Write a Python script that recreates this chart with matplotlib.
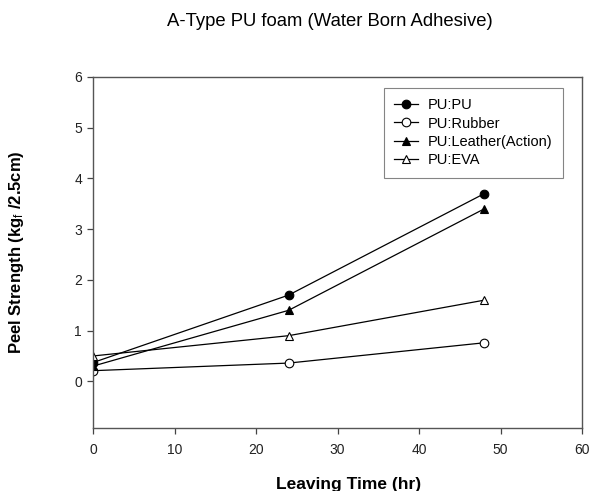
import matplotlib
matplotlib.use("Agg")
import matplotlib.pyplot as plt

plt.rcParams['font.family'] = ['Liberation Sans', 'DejaVu Sans']
plt.rcParams['mathtext.fontset'] = 'custom'
plt.rcParams['mathtext.rm'] = 'Liberation Sans'
plt.rcParams['mathtext.it'] = 'Liberation Sans'
plt.rcParams['mathtext.bf'] = 'Liberation Sans:bold'

time_hr = [0, 24, 48]
pu_pu = [0.37, 1.7, 3.7]
pu_rubber = [0.21, 0.36, 0.76]
pu_leather = [0.3, 1.4, 3.4]
pu_eva = [0.5, 0.9, 1.6]

W, H = 590, 491
fig = plt.figure(figsize=(W / 100, H / 100), dpi=100)
ax = fig.add_axes([93 / W, 1 - 428 / H, 489 / W, 351 / H])

common = dict(color='black', lw=0.9, ms=6.2, mec='black', mew=0.8)
ax.plot(time_hr, pu_pu, marker='o', mfc='black', label='PU:PU', **common)
ax.plot(time_hr, pu_rubber, marker='o', mfc='white', label='PU:Rubber', **common)
ax.plot(time_hr, pu_leather, marker='^', mfc='black', label='PU:Leather(Action)', **common)
ax.plot(time_hr, pu_eva, marker='^', mfc='white', label='PU:EVA', **common)

ax.set_xlim(0, 60)
ax.set_ylim(-0.92, 6)
ax.set_xticks([0, 10, 20, 30, 40, 50, 60])
ax.set_yticks([0, 1, 2, 3, 4, 5, 6])
ax.tick_params(direction='out', length=4, width=0.9, color='#444444',
               labelsize=10, labelcolor='#222222')
ax.tick_params(axis='y', pad=4)
ax.tick_params(axis='x', pad=7)
for s in ax.spines.values():
    s.set_color('#555555')
    s.set_linewidth(1.0)

fig.text(349 / W, 1 - 484 / H, 'Leaving Time (hr)', ha='center', va='center',
         fontsize=12.5, fontweight='bold')
fig.text(17 / W, 1 - 252 / H, r'Peel Strength (kg$_{f}$ /2.5cm)', rotation=90,
         ha='center', va='center', fontsize=12, fontweight='bold')
fig.text(330 / W, 1 - 21 / H, 'A-Type PU foam (Water Born Adhesive)',
         ha='center', va='center', fontsize=13.3)

leg = ax.legend(loc='upper left', bbox_to_anchor=((384 - 93) / 489, (428 - 88) / 351),
                fontsize=10.5, frameon=True, fancybox=False, handlelength=1.6,
                borderpad=0.7, borderaxespad=0, labelspacing=0.3, handletextpad=0.7)
leg.get_frame().set_edgecolor('#666666')
leg.get_frame().set_linewidth(0.8)

fig.savefig('out.png', dpi=100)
